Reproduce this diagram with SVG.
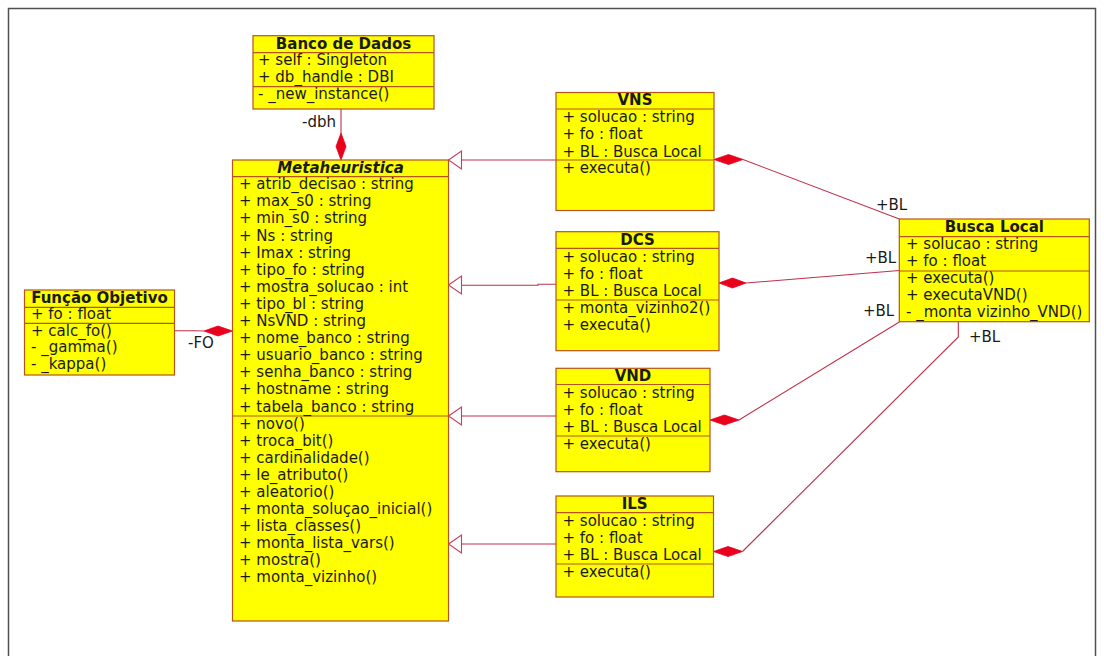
<svg xmlns="http://www.w3.org/2000/svg" width="1104" height="656" viewBox="0 0 1104 656">
<style>
.box{fill:#ffff00;stroke:#b5541c;stroke-width:1.2}
.sep{stroke:#b5541c;stroke-width:1.2}
text{font-family:"DejaVu Sans","Liberation Sans",sans-serif;font-size:15px;fill:#1a1a1a}
.t{font-weight:bold;text-anchor:middle}
.ti{font-weight:bold;font-style:italic;text-anchor:middle}
.ln{fill:none;stroke:#c0304a;stroke-width:1.1}
.dia{fill:#e8001c;stroke:#e8001c;stroke-width:0.8}
.tri{fill:#ffffff;stroke:#c04060;stroke-width:1.1}
</style>
<rect x="8.5" y="8.5" width="1087" height="700" fill="#ffffff" stroke="#505050" stroke-width="1.5"/>

<g id="connectors">
  <!-- dbh composition -->
  <line class="ln" x1="341" y1="109" x2="341" y2="133"/>
  <polygon class="dia" points="341,133 346,146.5 341,160 336,146.5"/>
  <text x="302" y="126.5">-dbh</text>
  <!-- FO composition -->
  <polyline class="ln" points="174.5,330.7 195,330.7 204,331"/>
  <polygon class="dia" points="204,331 218,326 232.5,331 218,336"/>
  <text x="188" y="348.3">-FO</text>
  <!-- generalizations -->
  <line class="ln" x1="556" y1="160" x2="461.5" y2="160"/>
  <polygon class="tri" points="448.5,160 461.5,151 461.5,169"/>
  <polyline class="ln" points="556,284.3 538,284.3 538,285.3 461.5,285.3"/>
  <polygon class="tri" points="448.5,285 461.5,276 461.5,294"/>
  <line class="ln" x1="556" y1="416" x2="461.5" y2="416"/>
  <polygon class="tri" points="448.5,416 461.5,407 461.5,425"/>
  <line class="ln" x1="556" y1="544" x2="461.5" y2="544"/>
  <polygon class="tri" points="448.5,544 461.5,535 461.5,553"/>
  <!-- compositions to Busca Local -->
  <polygon class="dia" points="714,159.5 728.5,154.5 743,159.5 728.5,164.5"/>
  <line class="ln" x1="743" y1="159.5" x2="899.3" y2="219"/>
  <text x="876" y="210">+BL</text>
  <polygon class="dia" points="719,283 732.5,278 746,283 732.5,288"/>
  <line class="ln" x1="746" y1="283" x2="899.3" y2="270.5"/>
  <text x="865" y="262.5">+BL</text>
  <polygon class="dia" points="710,420 724.5,415 739,420 724.5,425"/>
  <line class="ln" x1="739" y1="420" x2="899.3" y2="322"/>
  <text x="863" y="315.5">+BL</text>
  <polygon class="dia" points="713.5,551.5 728,546.5 742.5,551.5 728,556.5"/>
  <polyline class="ln" points="742.5,551.5 958.3,337 958.3,321.7"/>
  <text x="969" y="342">+BL</text>
</g>

<g id="banco_de_dados">
  <rect class="box" x="253" y="35.7" width="181" height="73.3"/>
  <line class="sep" x1="253" y1="52.7" x2="434" y2="52.7"/>
  <line class="sep" x1="253" y1="86.7" x2="434" y2="86.7"/>
  <text class="t" x="343.5" y="49">Banco de Dados</text>
  <text x="258" y="65.2">+ self : Singleton</text>
  <text x="258" y="82.3">+ db_handle : DBI</text>
  <text x="258" y="99.2">- _new_instance()</text>
</g>

<g id="metaheuristica">
  <rect class="box" x="232.5" y="160" width="216" height="461"/>
  <line class="sep" x1="232.5" y1="176.7" x2="448.5" y2="176.7"/>
  <line class="sep" x1="232.5" y1="416" x2="448.5" y2="416"/>
  <text class="ti" x="340.5" y="172.7">Metaheuristica</text>
  <text x="239" y="189.2">+ atrib_decisao : string</text>
  <text x="239" y="206.3">+ max_s0 : string</text>
  <text x="239" y="223.4">+ min_s0 : string</text>
  <text x="239" y="240.5">+ Ns : string</text>
  <text x="239" y="257.6">+ Imax : string</text>
  <text x="239" y="274.7">+ tipo_fo : string</text>
  <text x="239" y="291.8">+ mostra_solucao : int</text>
  <text x="239" y="308.9">+ tipo_bl : string</text>
  <text x="239" y="326">+ NsVND : string</text>
  <text x="239" y="343.1">+ nome_banco : string</text>
  <text x="239" y="360.2">+ usuario_banco : string</text>
  <text x="239" y="377.3">+ senha_banco : string</text>
  <text x="239" y="394.4">+ hostname : string</text>
  <text x="239" y="411.5">+ tabela_banco : string</text>
  <text x="239" y="428.5">+ novo()</text>
  <text x="239" y="445.6">+ troca_bit()</text>
  <text x="239" y="462.7">+ cardinalidade()</text>
  <text x="239" y="479.8">+ le_atributo()</text>
  <text x="239" y="496.9">+ aleatorio()</text>
  <text x="239" y="514">+ monta_soluçao_inicial()</text>
  <text x="239" y="531.1">+ lista_classes()</text>
  <text x="239" y="548.2">+ monta_lista_vars()</text>
  <text x="239" y="565.3">+ mostra()</text>
  <text x="239" y="582.4">+ monta_vizinho()</text>
</g>

<g id="funcao_objetivo">
  <rect class="box" x="24.5" y="290" width="150" height="85"/>
  <line class="sep" x1="24.5" y1="307.3" x2="174.5" y2="307.3"/>
  <line class="sep" x1="24.5" y1="323.3" x2="174.5" y2="323.3"/>
  <text class="t" x="99.5" y="302.5">Função Objetivo</text>
  <text x="31" y="319.3">+ fo : float</text>
  <text x="31" y="335.5">+ calc_fo()</text>
  <text x="31" y="352.3">- _gamma()</text>
  <text x="31" y="369.3">- _kappa()</text>
</g>

<g id="vns">
  <rect class="box" x="556" y="92.5" width="158" height="118"/>
  <line class="sep" x1="556" y1="109" x2="714" y2="109"/>
  <line class="sep" x1="556" y1="160" x2="714" y2="160"/>
  <text class="t" x="635" y="105">VNS</text>
  <text x="562.5" y="122.3">+ solucao : string</text>
  <text x="562.5" y="139.4">+ fo : float</text>
  <text x="562.5" y="156.5">+ BL : Busca Local</text>
  <text x="562.5" y="172.5">+ executa()</text>
</g>

<g id="dcs">
  <rect class="box" x="556" y="231.7" width="163" height="119"/>
  <line class="sep" x1="556" y1="248.3" x2="719" y2="248.3"/>
  <line class="sep" x1="556" y1="300" x2="719" y2="300"/>
  <text class="t" x="637.5" y="244.5">DCS</text>
  <text x="562.5" y="261.5">+ solucao : string</text>
  <text x="562.5" y="278.6">+ fo : float</text>
  <text x="562.5" y="295.7">+ BL : Busca Local</text>
  <text x="562.5" y="312.7">+ monta_vizinho2()</text>
  <text x="562.5" y="329.8">+ executa()</text>
</g>

<g id="vnd">
  <rect class="box" x="556" y="368.3" width="154" height="103.4"/>
  <line class="sep" x1="556" y1="384.5" x2="710" y2="384.5"/>
  <line class="sep" x1="556" y1="436" x2="710" y2="436"/>
  <text class="t" x="633" y="380.5">VND</text>
  <text x="562.5" y="397.7">+ solucao : string</text>
  <text x="562.5" y="414.8">+ fo : float</text>
  <text x="562.5" y="431.9">+ BL : Busca Local</text>
  <text x="562.5" y="448.5">+ executa()</text>
</g>

<g id="ils">
  <rect class="box" x="556" y="496" width="157.5" height="101"/>
  <line class="sep" x1="556" y1="512.7" x2="713.5" y2="512.7"/>
  <line class="sep" x1="556" y1="564" x2="713.5" y2="564"/>
  <text class="t" x="634.7" y="508.8">ILS</text>
  <text x="562.5" y="526">+ solucao : string</text>
  <text x="562.5" y="543.1">+ fo : float</text>
  <text x="562.5" y="560.2">+ BL : Busca Local</text>
  <text x="562.5" y="576.5">+ executa()</text>
</g>

<g id="busca_local">
  <rect class="box" x="899.3" y="219" width="190" height="102.7"/>
  <line class="sep" x1="899.3" y1="236.7" x2="1089.3" y2="236.7"/>
  <line class="sep" x1="899.3" y1="271" x2="1089.3" y2="271"/>
  <text class="t" x="994.3" y="232">Busca Local</text>
  <text x="906" y="249.2">+ solucao : string</text>
  <text x="906" y="266.3">+ fo : float</text>
  <text x="906" y="283">+ executa()</text>
  <text x="906" y="300">+ executaVND()</text>
  <text x="906" y="317">- _monta vizinho_VND()</text>
</g>
</svg>
